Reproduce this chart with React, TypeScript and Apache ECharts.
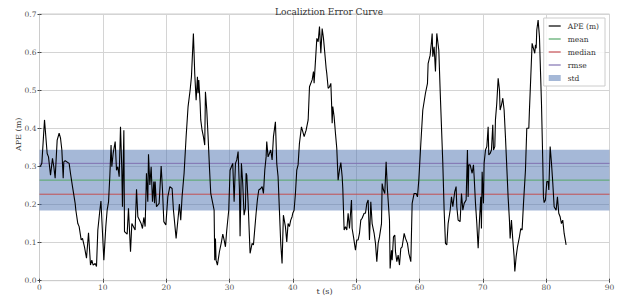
import React, { useEffect, useRef } from "react";
import * as echarts from "echarts";

// Time stamps (s) and APE values (m), in segments
const T_SEG1 = [0.0, 0.16, 0.37, 0.79, 1.0, 1.21, 1.42, 1.74, 2.05, 2.26, 2.47, 2.79, 3.1, 3.32, 3.53, 3.74, 3.84, 4.05, 4.68, 4.89, 5.21, 5.63, 5.74, 6.05, 6.26, 6.58, 6.79, 7.1, 7.42, 7.74, 8.05, 8.26, 8.47, 8.79, 9.0, 9.21, 9.53, 9.7, 10.16, 10.47, 10.68, 10.9, 11.1, 11.3, 11.42, 11.63, 11.95, 12.16, 12.37, 12.58, 12.79, 13.0, 13.1, 13.32, 13.42, 13.84, 14.05, 14.37, 14.58, 15.1, 15.32, 15.53, 16.05, 16.26, 16.47, 16.68, 16.89, 17.1, 17.21, 17.42, 17.63, 17.84, 18.05, 18.16, 18.26, 18.47, 18.89, 19.21, 19.42, 19.63, 19.95, 20.26, 20.58];
const A_SEG1 = [0.3, 0.301, 0.308, 0.422, 0.378, 0.334, 0.325, 0.277, 0.321, 0.299, 0.269, 0.369, 0.387, 0.374, 0.343, 0.269, 0.312, 0.315, 0.308, 0.282, 0.247, 0.203, 0.185, 0.15, 0.142, 0.107, 0.111, 0.089, 0.059, 0.126, 0.041, 0.054, 0.041, 0.045, 0.037, 0.133, 0.185, 0.209, 0.054, 0.142, 0.185, 0.207, 0.273, 0.356, 0.299, 0.334, 0.365, 0.29, 0.299, 0.273, 0.404, 0.29, 0.194, 0.395, 0.129, 0.122, 0.19, 0.076, 0.15, 0.133, 0.24, 0.168, 0.15, 0.137, 0.166, 0.142, 0.282, 0.207, 0.332, 0.251, 0.299, 0.207, 0.26, 0.203, 0.26, 0.194, 0.203, 0.301, 0.238, 0.155, 0.146, 0.22, 0.247];

const T_SEG2 = [20.94, 21.15, 21.57, 21.88, 22.09, 22.3, 22.51, 22.83, 23.15, 23.46, 23.78, 23.99, 24.3, 24.51, 24.73, 24.94, 25.04, 25.15, 25.36, 25.46, 25.67, 25.88, 26.09, 26.2, 26.41, 26.62, 26.83, 27.04, 27.36, 27.57, 27.67, 27.78, 27.88, 28.09, 28.41, 28.73, 28.94, 29.15, 29.36, 29.57, 29.88, 30.09, 30.3, 30.51, 30.73, 30.94, 31.15, 31.36, 31.57, 31.67, 31.88, 32.09, 32.3, 32.51, 32.62, 32.73, 32.94, 33.25, 33.57, 33.78, 34.2, 34.41, 34.62, 34.94, 35.15, 35.36, 35.57, 35.78, 35.88, 36.09, 36.3, 36.51, 36.73, 36.94, 37.25, 37.46, 37.67, 37.88, 38.09, 38.3, 38.51, 38.83, 39.04, 39.25, 39.46, 39.67, 39.88, 39.99, 40.2, 40.41, 40.62, 40.83, 41.04, 41.36];
const A_SEG2 = [0.242, 0.185, 0.111, 0.164, 0.201, 0.159, 0.22, 0.282, 0.378, 0.457, 0.5, 0.535, 0.649, 0.544, 0.474, 0.535, 0.492, 0.527, 0.465, 0.422, 0.395, 0.378, 0.356, 0.496, 0.448, 0.378, 0.299, 0.229, 0.203, 0.185, 0.054, 0.111, 0.054, 0.041, 0.076, 0.102, 0.122, 0.107, 0.089, 0.133, 0.185, 0.29, 0.299, 0.308, 0.207, 0.308, 0.317, 0.339, 0.238, 0.117, 0.308, 0.255, 0.172, 0.19, 0.282, 0.277, 0.203, 0.072, 0.098, 0.094, 0.177, 0.213, 0.238, 0.242, 0.247, 0.229, 0.29, 0.325, 0.365, 0.325, 0.334, 0.343, 0.317, 0.378, 0.417, 0.308, 0.273, 0.185, 0.098, 0.045, 0.172, 0.142, 0.102, 0.15, 0.142, 0.159, 0.168, 0.177, 0.185, 0.229, 0.29, 0.304, 0.36, 0.404];

const T_SEG3 = [41.79, 42.1, 42.42, 42.63, 43.05, 43.26, 43.36, 43.58, 43.79, 44.0, 44.21, 44.42, 44.63, 44.84, 45.05, 45.26, 45.36, 45.58, 45.79, 46.0, 46.1, 46.21, 46.31, 46.52, 46.73, 46.94, 47.15, 47.36, 47.58, 47.79, 47.89, 48.0, 48.1, 48.31, 48.52, 48.73, 48.94, 49.26, 49.36, 49.58, 49.89, 50.1, 50.31, 50.52, 50.73, 50.94, 51.26, 51.47, 51.68, 51.89, 52.1, 52.31, 52.52, 52.84, 53.05, 53.26, 53.47, 53.68, 54.0, 54.1, 54.31, 54.52, 54.73, 54.94, 55.26, 55.36, 55.58, 55.68, 55.89, 56.1, 56.21, 56.42, 56.63, 56.84, 57.05, 57.26, 57.58, 57.79, 58.1, 58.31, 58.63, 58.84, 59.15, 59.47, 59.68, 59.89, 60.21, 60.52, 60.94, 61.26, 61.36, 61.68, 61.89, 62.0, 62.1, 62.31, 62.52];
const A_SEG3 = [0.378, 0.395, 0.422, 0.509, 0.527, 0.549, 0.518, 0.579, 0.636, 0.627, 0.667, 0.597, 0.662, 0.636, 0.597, 0.557, 0.544, 0.505, 0.509, 0.518, 0.474, 0.413, 0.457, 0.43, 0.387, 0.347, 0.264, 0.29, 0.31, 0.273, 0.242, 0.185, 0.133, 0.142, 0.133, 0.177, 0.137, 0.212, 0.137, 0.115, 0.08, 0.107, 0.107, 0.124, 0.159, 0.164, 0.177, 0.177, 0.203, 0.212, 0.107, 0.207, 0.15, 0.124, 0.098, 0.05, 0.098, 0.115, 0.15, 0.255, 0.238, 0.229, 0.312, 0.238, 0.159, 0.032, 0.08, 0.054, 0.115, 0.12, 0.076, 0.05, 0.067, 0.041, 0.085, 0.089, 0.124, 0.111, 0.098, 0.072, 0.05, 0.203, 0.229, 0.229, 0.22, 0.264, 0.36, 0.448, 0.492, 0.518, 0.57, 0.592, 0.627, 0.649, 0.588, 0.614, 0.549];

const T_SEG4 = [62.73, 63.05, 63.26, 63.47, 63.68, 63.89, 64.1, 64.31, 64.52, 64.84, 65.05, 65.26, 65.57, 65.78, 65.89, 66.1, 66.41, 66.63, 66.84, 67.05, 67.36, 67.57, 67.68, 67.78, 68.0, 68.31, 68.52, 68.63, 68.84, 69.05, 69.26, 69.47, 69.68, 69.78, 69.89, 70.1, 70.2, 70.42, 70.63, 70.84, 70.94, 71.15, 71.36, 71.57, 71.68, 71.89, 71.99, 72.2, 72.42, 72.63, 72.73, 72.94, 73.15, 73.36, 73.57, 73.78, 73.99, 74.2, 74.31, 74.52, 74.73, 74.94, 75.05, 75.26, 75.47, 75.78, 75.99, 76.2, 76.42, 76.73, 76.94, 77.26, 77.36, 77.57, 77.78, 77.99, 78.2, 78.31, 78.42, 78.52, 78.73, 78.94, 79.05, 79.26, 79.47, 79.57, 79.68, 79.89, 80.1, 80.31, 80.42, 80.63, 80.84, 81.05, 81.26, 81.57, 81.78, 81.99, 82.2, 82.41, 82.62, 82.84, 83.15];
const A_SEG4 = [0.649, 0.605, 0.5, 0.404, 0.308, 0.185, 0.098, 0.094, 0.15, 0.185, 0.22, 0.194, 0.234, 0.247, 0.194, 0.159, 0.155, 0.229, 0.185, 0.203, 0.212, 0.343, 0.22, 0.304, 0.304, 0.282, 0.304, 0.273, 0.203, 0.15, 0.085, 0.159, 0.22, 0.137, 0.286, 0.203, 0.308, 0.343, 0.352, 0.404, 0.33, 0.334, 0.343, 0.409, 0.343, 0.352, 0.422, 0.465, 0.531, 0.5, 0.448, 0.461, 0.479, 0.448, 0.378, 0.299, 0.22, 0.159, 0.111, 0.159, 0.107, 0.063, 0.024, 0.063, 0.089, 0.115, 0.137, 0.133, 0.203, 0.29, 0.4, 0.4, 0.448, 0.535, 0.623, 0.61, 0.597, 0.619, 0.61, 0.658, 0.684, 0.64, 0.579, 0.465, 0.308, 0.22, 0.205, 0.212, 0.26, 0.26, 0.238, 0.352, 0.308, 0.255, 0.194, 0.185, 0.22, 0.177, 0.168, 0.15, 0.159, 0.124, 0.094];

// Statistics
const MEAN = 0.264;
const MEDIAN = 0.227;
const RMSE = 0.308;
const STD = 0.08;

const X_RANGE = [0, 90];

const FONT = "DejaVu Serif";
const LINE_ICON = "path://M0,0 L12,0 L12,1.2 L0,1.2 Z";

export default function App() {
  const ref = useRef<HTMLDivElement>(null);
  useEffect(() => {
    if (!ref.current) return;
    const chart = echarts.init(ref.current, undefined, { renderer: "svg" });
    const times = [...T_SEG1, ...T_SEG2, ...T_SEG3, ...T_SEG4];
    const ape = [...A_SEG1, ...A_SEG2, ...A_SEG3, ...A_SEG4];
    const apeData = times.map((t, i) => [t, ape[i]]);
    const hline = (v: number) => X_RANGE.map((x) => [x, v]);
    const tickLabel = { fontFamily: FONT, fontSize: 7.5, color: "#555" };
    chart.setOption({
      animation: false,
      backgroundColor: "#fff",
      title: {
        text: "Localiztion Error Curve",
        left: 324,
        textAlign: "center",
        top: 2,
        textStyle: { fontFamily: FONT, fontSize: 9, fontWeight: "normal", color: "#333" },
      },
      grid: {
        left: 39.5,
        right: 22.5,
        top: 14,
        bottom: 17.3,
        containLabel: false,
        outerBoundsMode: "none",
        show: true,
        borderColor: "#cccccc",
        borderWidth: 1,
      },
      legend: {
        orient: "vertical",
        right: 27,
        top: 18,
        padding: [4, 6, 4, 5],
        itemWidth: 12,
        itemHeight: 6,
        itemGap: 5,
        symbolKeepAspect: true,
        backgroundColor: "rgba(255,255,255,0.85)",
        borderColor: "#cccccc",
        borderWidth: 1,
        borderRadius: 0,
        textStyle: { fontFamily: FONT, fontSize: 7.5, color: "#333", padding: [0, 0, 0, 2] },
        data: [
          { name: "APE (m)", icon: LINE_ICON, itemStyle: { color: "#000" } },
          { name: "mean", icon: LINE_ICON, itemStyle: { color: "#55a868" } },
          { name: "median", icon: LINE_ICON, itemStyle: { color: "#c44e52" } },
          { name: "rmse", icon: LINE_ICON, itemStyle: { color: "#8172b2" } },
          { name: "std", icon: "rect", itemStyle: { color: "rgba(76,114,176,0.5)" } },
        ],
      },
      xAxis: [
        {
          type: "value",
          min: 0,
          max: 90,
          interval: 10,
          name: "t (s)",
          nameLocation: "middle",
          nameGap: 7,
          nameMoveOverlap: false,
          nameTextStyle: { fontFamily: FONT, fontSize: 8, color: "#333" },
          axisLine: { show: true, lineStyle: { color: "#cccccc" } },
          axisTick: { show: true, length: 2, lineStyle: { color: "#444" } },
          axisLabel: { ...tickLabel, margin: 3 },
          splitLine: { show: true, lineStyle: { color: "#d4d4d4", width: 1 } },
        },
        {
          type: "value",
          position: "top",
          min: 0,
          max: 90,
          interval: 10,
          axisLine: { show: false },
          axisTick: { show: true, length: 2, lineStyle: { color: "#444" } },
          axisLabel: { show: false },
          splitLine: { show: false },
        },
      ],
      yAxis: [
        {
          type: "value",
          min: 0,
          max: 0.7,
          interval: 0.1,
          name: "APE (m)",
          nameLocation: "middle",
          nameGap: 17,
          nameMoveOverlap: false,
          nameTextStyle: { fontFamily: FONT, fontSize: 8, color: "#333", padding: [0, 0, 0, 26] },
          axisLine: { show: true, lineStyle: { color: "#cccccc" } },
          axisTick: { show: true, length: 2, lineStyle: { color: "#444" } },
          axisLabel: { ...tickLabel, margin: 3, formatter: (v: number) => v.toFixed(1) },
          splitLine: { show: true, lineStyle: { color: "#d4d4d4", width: 1 } },
        },
        {
          type: "value",
          position: "right",
          min: 0,
          max: 0.7,
          interval: 0.1,
          axisLine: { show: false },
          axisTick: { show: true, length: 2, lineStyle: { color: "#444" } },
          axisLabel: { show: false },
          splitLine: { show: false },
        },
      ],
      series: [
        {
          name: "std",
          type: "line",
          data: [],
          symbol: "none",
          itemStyle: { color: "rgba(76,114,176,0.5)" },
          z: 1,
          markArea: {
            silent: true,
            itemStyle: { color: "rgba(76,114,176,0.5)" },
            data: [[{ yAxis: MEAN - STD }, { yAxis: MEAN + STD }]],
          },
        },
        {
          name: "mean",
          type: "line",
          data: hline(MEAN),
          symbol: "none",
          lineStyle: { color: "#55a868", width: 1 },
          itemStyle: { color: "#55a868" },
          z: 3,
        },
        {
          name: "median",
          type: "line",
          data: hline(MEDIAN),
          symbol: "none",
          lineStyle: { color: "#c44e52", width: 1 },
          itemStyle: { color: "#c44e52" },
          z: 3,
        },
        {
          name: "rmse",
          type: "line",
          data: hline(RMSE),
          symbol: "none",
          lineStyle: { color: "#8172b2", width: 1 },
          itemStyle: { color: "#8172b2" },
          z: 3,
        },
        {
          name: "APE (m)",
          type: "line",
          data: apeData,
          symbol: "none",
          lineStyle: { color: "#000", width: 1.1 },
          itemStyle: { color: "#000" },
          z: 4,
        },
      ],
    });
    return () => chart.dispose();
  }, []);
  return <div ref={ref} style={{ position: "absolute", left: 0, top: 0, width: 632, height: 298 }} />;
}
